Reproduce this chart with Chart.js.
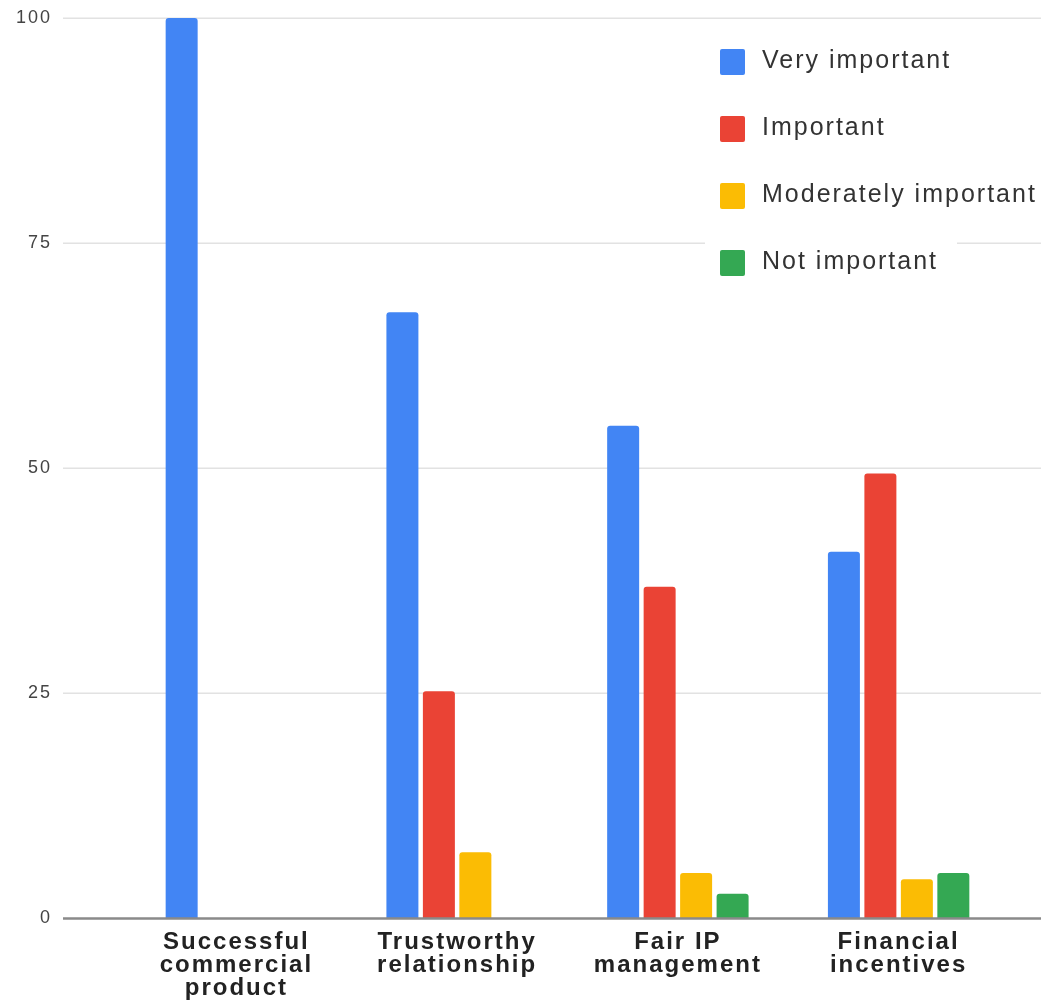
<!DOCTYPE html>
<html>
<head>
<meta charset="utf-8">
<title>Importance of collaboration factors</title>
<script src="https://cdn.jsdelivr.net/npm/chart.js@4.4.1/dist/chart.umd.min.js"></script>
<style>
  html, body { margin: 0; padding: 0; background: #ffffff; }
  #wrap { width: 1041px; height: 1000px; }
</style>
</head>
<body>
<div id="wrap"><canvas id="chart" width="1041" height="1000"></canvas></div>
<script>
// Categories (multi-line axis labels)
const categories = [
  ['Successful', 'commercial', 'product'],
  ['Trustworthy', 'relationship'],
  ['Fair IP', 'management'],
  ['Financial', 'incentives']
];

// Share of respondents per rating (%)
const veryImportant       = [100, 67.3, 54.7, 40.7];
const important           = [0, 25.2, 36.8, 49.4];
const moderatelyImportant = [0, 7.3, 5.0, 4.3];
const notImportant        = [0, 0, 2.7, 5.0];

const seriesNames = ['Very important', 'Important', 'Moderately important', 'Not important'];
const yTicks = [0, 25, 50, 75, 100];

const colors = ['#4285f4', '#ea4335', '#fbbc04', '#34a853'];
const FONT = "'Liberation Sans', Arial, Helvetica, sans-serif";

// Gridlines span wider than the category band, plus a boxed legend
const framePlugin = {
  id: 'frame',
  beforeDraw(chart) {
    chart.ctx.letterSpacing = '2px';
  },
  beforeDatasetsDraw(chart) {
    const { ctx, width } = chart;
    const y = chart.scales.y;
    ctx.save();
    ctx.strokeStyle = '#e2e2e2';
    ctx.lineWidth = 1.5;
    y.ticks.forEach(t => {
      if (t.value === 0) return;
      const py = Math.round(y.getPixelForValue(t.value)) + 0.25;
      ctx.beginPath();
      ctx.moveTo(63, py);
      ctx.lineTo(width, py);
      ctx.stroke();
    });
    // white backing behind the legend
    ctx.fillStyle = '#ffffff';
    ctx.fillRect(705, 36, 252, 254);
    ctx.restore();
  },
  afterDatasetsDraw(chart) {
    const { ctx, width } = chart;
    const y = chart.scales.y;
    ctx.save();
    // baseline
    const y0 = y.getPixelForValue(0);
    ctx.strokeStyle = '#8a8a8a';
    ctx.lineWidth = 2.5;
    ctx.beginPath();
    ctx.moveTo(63, y0 + 0.5);
    ctx.lineTo(width, y0 + 0.5);
    ctx.stroke();

    // legend
    ctx.letterSpacing = '2px';
    ctx.font = '25px ' + FONT;
    ctx.textAlign = 'left';
    ctx.textBaseline = 'middle';
    chart.data.datasets.forEach((ds, i) => {
      const cy = 62 + i * 67;
      ctx.fillStyle = ds.backgroundColor;
      ctx.beginPath();
      ctx.roundRect(720, cy - 13, 25, 26, 2);
      ctx.fill();
      ctx.fillStyle = '#333333';
      ctx.fillText(ds.label, 762, cy - 1);
    });
    ctx.restore();
  }
};

const seriesValues = [veryImportant, important, moderatelyImportant, notImportant];

new Chart(document.getElementById('chart'), {
  type: 'bar',
  data: {
    labels: categories,
    datasets: seriesNames.map((name, i) => ({
      label: name,
      data: seriesValues[i],
      backgroundColor: colors[i],
      borderRadius: { topLeft: 3, topRight: 3, bottomLeft: 0, bottomRight: 0 },
      borderSkipped: 'start',
      categoryPercentage: 0.661,
      barPercentage: 0.877
    }))
  },
  options: {
    responsive: false,
    animation: false,
    layout: { padding: { top: 18, right: 32, bottom: 0, left: 0 } },
    plugins: {
      legend: { display: false },
      tooltip: { enabled: false }
    },
    scales: {
      x: {
        grid: { display: false, drawTicks: false },
        border: { display: false },
        ticks: {
          color: '#222222',
          padding: 13,
          maxRotation: 0,
          autoSkip: false,
          font: { family: FONT, size: 24, weight: 'bold', lineHeight: '23px' }
        },
        afterFit(scale) { scale.height = 82; }
      },
      y: {
        min: 0,
        max: 100,
        afterBuildTicks(scale) { scale.ticks = yTicks.map(v => ({ value: v })); },
        grid: { display: false, drawTicks: false },
        border: { display: false },
        ticks: {
          color: '#444444',
          padding: 74,
          font: { family: FONT, size: 18 }
        },
        afterFit(scale) {
          scale.width = 126;
          scale.paddingTop = 0;
          scale.paddingBottom = 0;
        }
      }
    }
  },
  plugins: [framePlugin]
});
</script>
</body>
</html>
